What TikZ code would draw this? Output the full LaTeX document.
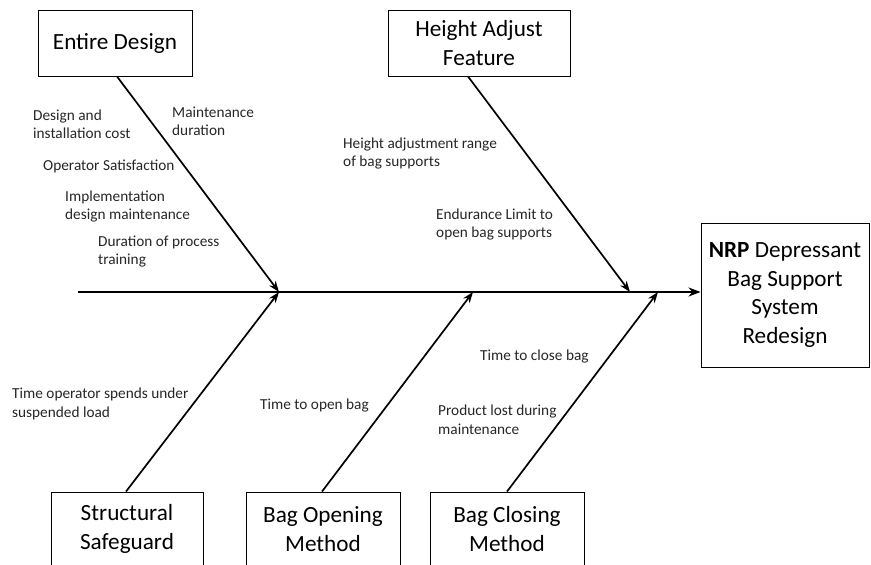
\documentclass[tikz,border=0pt]{standalone}
\usepackage{fontspec}
\setmainfont{Carlito}
\usetikzlibrary{arrows.meta}
\begin{document}
\begin{tikzpicture}[x=1pt,y=-1pt,
  catbox/.style={draw=black,line width=0.9pt,inner sep=0pt,align=center,
    font=\fontsize{23.2}{28.7}\selectfont},
  lbl/.style={anchor=west,inner sep=0pt,align=left,text=black!85,
    font=\fontsize{15.3}{18.5}\selectfont},
  bone/.style={line width=1.7pt,-{Stealth[length=11pt,width=8pt]}},
  spine/.style={line width=2pt,-{Stealth[length=12pt,width=9pt]}}]
\useasboundingbox (0,0) rectangle (871,565);
\clip (0,0) rectangle (871,565);
% category boxes
\node[catbox,minimum width=154pt,minimum height=66pt] (ed) at (115,43) {Entire Design};
\node[catbox,minimum width=182pt,minimum height=66pt] (ha) at (479,43) {Height Adjust\\Feature};
\node[catbox,minimum width=168pt,minimum height=144pt] (nrp) at (785,295) {\textbf{NRP} Depressant\\Bag Support\\System\\Redesign};
\node[catbox,minimum width=152pt,minimum height=74pt] (ss) at (127,529) {Structural\\Safeguard};
\node[catbox,minimum width=154pt,minimum height=74pt] (bo) at (323,529) {Bag Opening\\Method};
\node[catbox,minimum width=154pt,minimum height=74pt] (bc) at (507,529) {Bag Closing\\Method};
% spine
\coordinate (s0) at (78,292);
\coordinate (p1) at (279,292);
\coordinate (p2) at (630,292);
\coordinate (p3) at (473,292);
\coordinate (p4) at (658,292);
\draw[spine] (s0) -- (s0 -| nrp.west);
% bones
\draw[bone] ([xshift=2pt]ed.south) -- (p1);
\draw[bone] ([xshift=-11pt]ha.south) -- (p2);
\draw[bone] ([xshift=-1pt]ss.north) -- (p1);
\draw[bone] ([xshift=-1pt]bo.north) -- (p3);
\draw[bone] (bc.north) -- (p4);
% labels
\node[lbl] (l1) at (33,124) {Design and\\installation cost};
\node[lbl] (l2) at (172,121.5) {Maintenance\\duration};
\node[lbl] (l3) at (43,166) {Operator Satisfaction};
\node[lbl] (l4) at (65,206.5) {Implementation\\design maintenance};
\node[lbl] (l5) at (98,251.5) {Duration of process\\training};
\node[lbl] (l6) at (343,153.5) {Height adjustment range\\of bag supports};
\node[lbl] (l7) at (436,224.5) {Endurance Limit to\\open bag supports};
\node[lbl] (l8) at (12,404) {Time operator spends under\\suspended load};
\node[lbl] (l9) at (260,405) {Time to open bag};
\node[lbl] (l10) at (480,356) {Time to close bag};
\node[lbl] (l11) at (438,419.5) {Product lost during\\maintenance};
\end{tikzpicture}
\end{document}
